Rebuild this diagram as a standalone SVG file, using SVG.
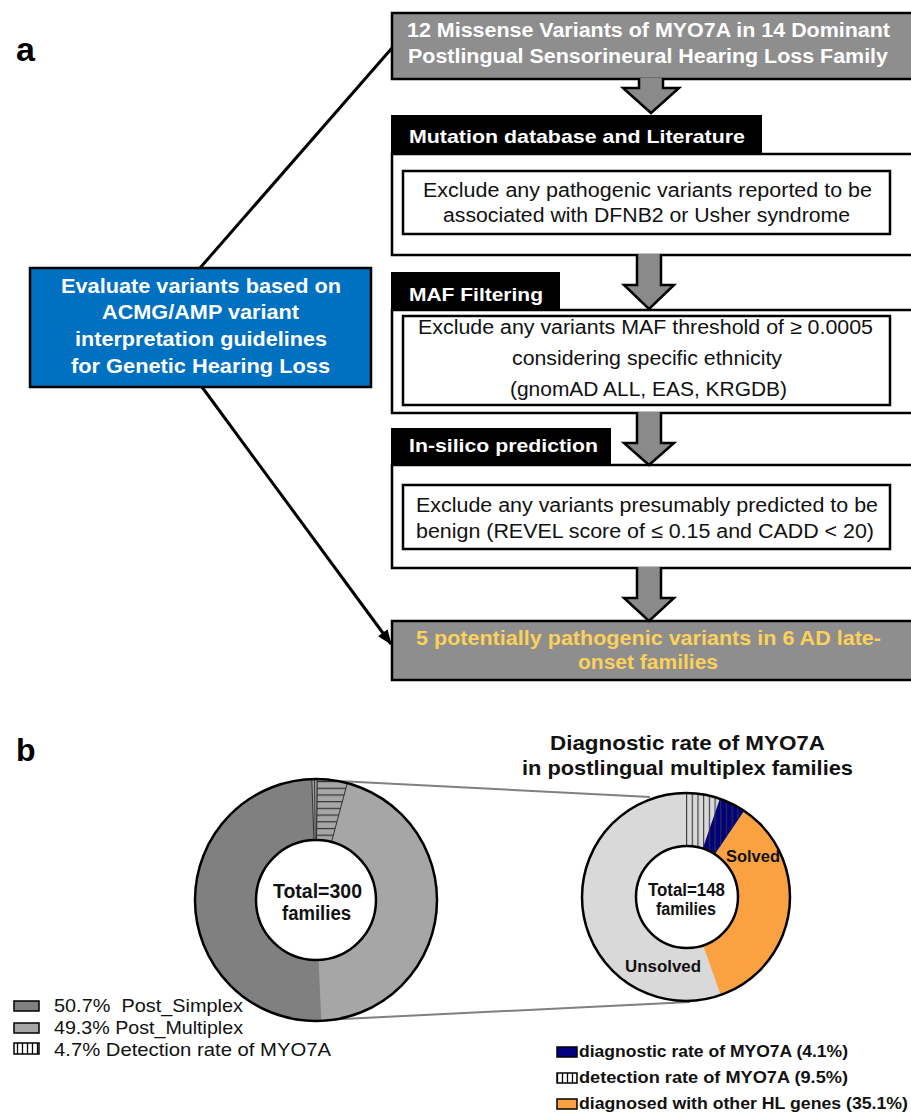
<svg xmlns="http://www.w3.org/2000/svg" width="911" height="1113" viewBox="0 0 911 1113">
<defs>
<style>
text{font-family:"Liberation Sans",Arial,Helvetica,sans-serif;}
.b{font-weight:bold;}
.wt{fill:#fff;}
.gbox{fill:#8e8e8e;stroke:#000;stroke-width:2.5;}
.hdr{fill:#000;}
.wbox{fill:#fff;stroke:#000;stroke-width:2.5;}
.arrow{fill:#8a8a8a;stroke:#000;stroke-width:2.5;stroke-linejoin:miter;}
.t19{font-size:20px;}
.in{font-size:20px;fill:#111;}
.hd{font-size:19px;font-weight:bold;fill:#fff;}
.diag{stroke:#000;stroke-width:3;fill:none;}
.zoomline{stroke:#808080;stroke-width:2;fill:none;}
.ring{fill:none;stroke:#000;stroke-width:2.5;}
.hole{fill:#fff;stroke:#000;stroke-width:2.5;}
.leg{font-size:19px;fill:#111;}
.legr{font-size:17px;font-weight:bold;fill:#111;}
.sw{stroke:#000;stroke-width:1.5;}
</style>
<marker id="ah" markerUnits="userSpaceOnUse" markerWidth="15" markerHeight="12" refX="14" refY="6" orient="auto"><path d="M0,0 L15,6 L0,12 Z" fill="#000"/></marker>
<pattern id="hs" patternUnits="userSpaceOnUse" width="20" height="6.7" x="0" y="781"><rect width="20" height="6.7" fill="#a6a6a6"/><line x1="0" y1="0.6" x2="20" y2="0.6" stroke="#333" stroke-width="1.2"/></pattern>
<pattern id="vs" patternUnits="userSpaceOnUse" width="5.7" height="20" x="686" y="0"><line x1="0.6" y1="0" x2="0.6" y2="20" stroke="#333" stroke-width="1.1"/></pattern>
<pattern id="vsw" patternUnits="userSpaceOnUse" width="5" height="20" x="0" y="0"><rect width="5" height="20" fill="#fff"/><line x1="2.5" y1="0" x2="2.5" y2="20" stroke="#000" stroke-width="1.3"/></pattern>
</defs>

<rect width="911" height="1113" fill="#fff"/>

<text x="16" y="61" class="b" font-size="34" fill="#000">a</text>
<text x="16" y="761" class="b" font-size="32" fill="#000">b</text>

<g id="connectors">
  <line class="diag" x1="200" y1="268" x2="392" y2="48"/>
  <line class="diag" x1="202" y1="387" x2="391" y2="644" marker-end="url(#ah)"/>
  <line class="zoomline" x1="338" y1="781" x2="650" y2="797"/>
  <line class="zoomline" x1="322" y1="1020" x2="690" y2="1002"/>
</g>

<g id="node-start">
  <rect class="gbox" x="392" y="13" width="530" height="66"/>
  <text class="b wt t19" x="407" y="37" textLength="483" lengthAdjust="spacingAndGlyphs">12 Missense Variants of MYO7A in 14 Dominant</text>
  <text class="b wt t19" x="408" y="63" textLength="480" lengthAdjust="spacingAndGlyphs">Postlingual Sensorineural Hearing Loss Family</text>
</g>

<g id="node-evaluate">
  <rect x="30" y="268" width="341" height="119" fill="#0070C0" stroke="#000" stroke-width="2.5"/>
  <text class="b wt" font-size="21" x="61" y="293" textLength="280" lengthAdjust="spacingAndGlyphs">Evaluate variants based on</text>
  <text class="b wt" font-size="21" x="102" y="319" textLength="197" lengthAdjust="spacingAndGlyphs">ACMG/AMP variant</text>
  <text class="b wt" font-size="21" x="75" y="346" textLength="252" lengthAdjust="spacingAndGlyphs">interpretation guidelines</text>
  <text class="b wt" font-size="21" x="71" y="373" textLength="259" lengthAdjust="spacingAndGlyphs">for Genetic Hearing Loss</text>
</g>

<g id="node-mutation-db">
  <rect class="wbox" x="392" y="154" width="530" height="101"/>
  <rect class="hdr" x="391" y="115" width="371" height="40"/>
  <text class="hd" x="409" y="143" textLength="336" lengthAdjust="spacingAndGlyphs">Mutation database and Literature</text>
  <rect class="wbox" x="403" y="171" width="487" height="63"/>
  <text class="in" x="423" y="197" textLength="449" lengthAdjust="spacingAndGlyphs">Exclude any pathogenic variants reported to be</text>
  <text class="in" x="443" y="222" textLength="407" lengthAdjust="spacingAndGlyphs">associated with DFNB2 or Usher syndrome</text>
</g>

<g id="node-maf">
  <rect class="wbox" x="392" y="310" width="530" height="103"/>
  <rect class="hdr" x="391" y="272" width="169" height="39"/>
  <text class="hd" x="409" y="301" textLength="134" lengthAdjust="spacingAndGlyphs">MAF Filtering</text>
  <rect class="wbox" x="403" y="316" width="487" height="89"/>
  <text class="in" x="418" y="334" textLength="455" lengthAdjust="spacingAndGlyphs">Exclude any variants MAF threshold of ≥ 0.0005</text>
  <text class="in" x="512" y="365" textLength="270" lengthAdjust="spacingAndGlyphs">considering specific ethnicity</text>
  <text class="in" x="510" y="396" textLength="277" lengthAdjust="spacingAndGlyphs">(gnomAD ALL, EAS, KRGDB)</text>
</g>

<g id="node-insilico">
  <rect class="wbox" x="392" y="465" width="530" height="103"/>
  <rect class="hdr" x="391" y="428" width="220" height="38"/>
  <text class="hd" x="409" y="452" textLength="189" lengthAdjust="spacingAndGlyphs">In-silico prediction</text>
  <rect class="wbox" x="403" y="485" width="487" height="64"/>
  <text class="in" x="416" y="512" textLength="462" lengthAdjust="spacingAndGlyphs">Exclude any variants presumably predicted to be</text>
  <text class="in" x="416" y="538" textLength="458" lengthAdjust="spacingAndGlyphs">benign (REVEL score of ≤ 0.15 and CADD &lt; 20)</text>
</g>

<g id="node-result">
  <rect class="gbox" x="392" y="621" width="530" height="59"/>
  <text class="b t19" fill="#FCD15A" x="416" y="645" textLength="465" lengthAdjust="spacingAndGlyphs">5 potentially pathogenic variants in 6 AD late-</text>
  <text class="b t19" fill="#FCD15A" x="578" y="669" textLength="140" lengthAdjust="spacingAndGlyphs">onset families</text>
</g>

<g id="block-arrows">
  <path class="arrow" d="M639 78 L639 88 L623 88 L651 113 L679 88 L663 88 L663 78"/>
  <path class="arrow" d="M637 254 L637 285 L624 285 L649 309 L674 285 L661 285 L661 254"/>
  <path class="arrow" d="M637 412 L637 443 L624 443 L649 465 L674 443 L661 443 L661 412"/>
  <path class="arrow" d="M637 567 L637 598 L624 598 L649 621 L674 598 L661 598 L661 567"/>
</g>

<g id="chart-left">
  <circle cx="316" cy="900" r="121" fill="#808080"/>
  <path d="M316 900 L316 779 A121 121 0 0 1 321.3 1020.9 Z" fill="#a6a6a6"/>
  <path d="M317.1 779 A121 121 0 0 1 347.3 783.1 L331.5 842 A60 60 0 0 0 316.5 840 Z" fill="url(#hs)" stroke="#333" stroke-width="1"/>
  <path d="M311.8 779.1 A121 121 0 0 1 317.1 779 L316.5 840 L313.9 840 Z" fill="#a0a0a0" stroke="#333" stroke-width="1"/>
  <line x1="314.5" y1="779" x2="315.2" y2="840" stroke="#333" stroke-width="1"/>
  <circle class="ring" cx="316" cy="900" r="121"/>
  <circle class="hole" cx="316" cy="900" r="60"/>
  <text class="b" font-size="19.5" x="273" y="898" textLength="89" lengthAdjust="spacingAndGlyphs" fill="#111">Total=300</text>
  <text class="b" font-size="19.5" x="282" y="920" textLength="69" lengthAdjust="spacingAndGlyphs" fill="#111">families</text>
</g>

<g id="chart-right">
  <text class="b" font-size="21" x="550" y="750" textLength="275" lengthAdjust="spacingAndGlyphs" fill="#111">Diagnostic rate of MYO7A</text>
  <text class="b" font-size="21" x="522" y="775" textLength="331" lengthAdjust="spacingAndGlyphs" fill="#111">in postlingual multiplex families</text>
  <circle cx="686" cy="897" r="104" fill="#d9d9d9"/>
  <path d="M686 897 L744.2 810.8 A104 104 0 0 1 720.7 995 Z" fill="#FAA241"/>
  <path d="M686 897 L719.9 798.7 A104 104 0 0 1 744.2 810.8 Z" fill="#000080"/>
  <path d="M686 793 A104 104 0 0 1 744.2 810.8 L714.5 854.7 A51 51 0 0 0 686 846 Z" fill="url(#vs)"/>
  <circle class="ring" cx="686" cy="897" r="104"/>
  <circle class="hole" cx="687" cy="897" r="51"/>
  <text class="b" font-size="17.5" x="648" y="896" textLength="77" lengthAdjust="spacingAndGlyphs" fill="#111">Total=148</text>
  <text class="b" font-size="17.5" x="656" y="915" textLength="60" lengthAdjust="spacingAndGlyphs" fill="#111">families</text>
  <text class="b" font-size="17" x="726" y="862" textLength="54" lengthAdjust="spacingAndGlyphs" fill="#111">Solved</text>
  <text class="b" font-size="17" x="625" y="972" textLength="76" lengthAdjust="spacingAndGlyphs" fill="#111">Unsolved</text>
</g>

<g id="legend-left">
  <rect class="sw" x="14" y="1001" width="25" height="10" fill="#808080"/>
  <rect class="sw" x="14" y="1023" width="25" height="10" fill="#a6a6a6"/>
  <rect class="sw" x="14" y="1043" width="25" height="11" fill="url(#vsw)"/>
  <text class="leg" x="54" y="1012" textLength="189" lengthAdjust="spacingAndGlyphs" xml:space="preserve">50.7%  Post_Simplex</text>
  <text class="leg" x="54" y="1034" textLength="189" lengthAdjust="spacingAndGlyphs">49.3% Post_Multiplex</text>
  <text class="leg" x="54" y="1056" textLength="277" lengthAdjust="spacingAndGlyphs">4.7% Detection rate of MYO7A</text>
</g>

<g id="legend-right">
  <rect class="sw" x="557" y="1047" width="20" height="10" fill="#000080"/>
  <rect class="sw" x="557" y="1073" width="20" height="10" fill="url(#vsw)"/>
  <rect class="sw" x="557" y="1099" width="20" height="10" fill="#FAA241"/>
  <text class="legr" x="579" y="1057" textLength="269" lengthAdjust="spacingAndGlyphs">diagnostic rate of MYO7A (4.1%)</text>
  <text class="legr" x="579" y="1083" textLength="269" lengthAdjust="spacingAndGlyphs">detection rate of MYO7A (9.5%)</text>
  <text class="legr" x="579" y="1109" textLength="329" lengthAdjust="spacingAndGlyphs">diagnosed with other HL genes (35.1%)</text>
</g>
</svg>
